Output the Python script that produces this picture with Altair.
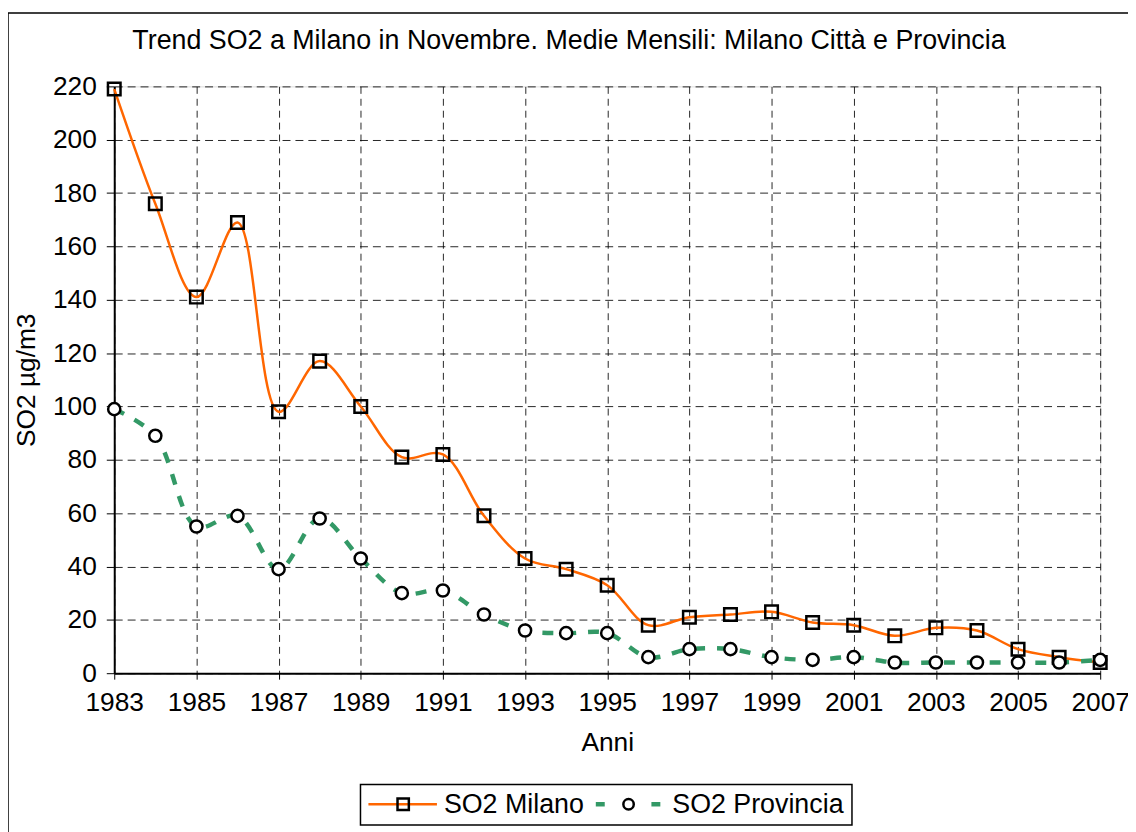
import altair as alt
import pandas as pd

years = list(range(1983, 2008))
milano = [219, 176, 141, 169, 98, 117, 100, 81, 82, 59, 43, 39, 33, 18, 21, 22, 23, 19, 18, 14, 17, 16, 9, 6, 4]
provincia = [99, 89, 55, 59, 39, 58, 43, 30, 31, 22, 16, 15, 15, 6, 9, 9, 6, 5, 6, 4, 4, 4, 4, 4, 5]
x_ticks = list(range(1983, 2008, 2))
y_ticks = list(range(0, 221, 20))
title_text = "Trend SO2 a Milano in Novembre. Medie Mensili: Milano Città e Provincia"

df = pd.DataFrame({"Anno": years, "Milano": milano, "Provincia": provincia})

FONT = "Liberation Sans"
ORANGE = "#FF6600"
GREEN = "#339966"
FS = 26.5

x = alt.X("Anno:Q", scale=alt.Scale(domain=[1983, 2007], nice=False, zero=False),
          axis=alt.Axis(values=x_ticks, format="d", title="Anni", grid=True,
                        gridDash=[7, 5], gridColor="#000000", gridOpacity=0.85,
                        domainColor="#000000", domainWidth=2, tickColor="#000000",
                        tickSize=6, labelFontSize=FS, labelFont=FONT, labelColor="#000",
                        labelOverlap=False, labelFlush=False, labelBound=False,
                        labelPadding=11, titleFontSize=FS, titleFont=FONT,
                        titleFontWeight="normal", titlePadding=13, titleColor="#000"))
y_axis = alt.Axis(values=y_ticks, title="SO2 µg/m3", grid=True, gridDash=[8, 5],
                  gridColor="#000000", gridOpacity=0.85, domainColor="#000000",
                  domainWidth=2, tickColor="#000000", tickSize=8, labelFontSize=FS,
                  labelFont=FONT, labelColor="#000", labelPadding=10, titleFontSize=FS,
                  labelOverlap=False, labelFlush=False,
                  titleFont=FONT, titleFontWeight="normal", titlePadding=12, titleColor="#000")
yscale = alt.Scale(domain=[0, 220], nice=False)

base = alt.Chart(df)

line_m = base.mark_line(color=ORANGE, strokeWidth=2.5, interpolate="catmull-rom").encode(
    x=x, y=alt.Y("Milano:Q", scale=yscale, axis=y_axis))
pts_m = base.mark_point(shape="square", size=160, filled=False, color="#000000",
                        strokeWidth=2.5, opacity=1).encode(x="Anno:Q", y="Milano:Q")
line_p = base.mark_line(color=GREEN, strokeWidth=4.5, strokeDash=[11, 12],
                        interpolate="catmull-rom").encode(x="Anno:Q", y="Provincia:Q")
pts_p = base.mark_point(shape="circle", size=150, filled=True, fill="#ffffff",
                        stroke="#000000", strokeWidth=2.5, opacity=1).encode(
    x="Anno:Q", y="Provincia:Q")

single = pd.DataFrame({"a": [0]})

# outer frame
frame = alt.Chart(single).mark_rect(
    fill=None, stroke="#000000", strokeWidth=1.5, clip=False).encode(
    x=alt.value(-107), x2=alt.value(1040), y=alt.value(-74), y2=alt.value(760))

# title
title = alt.Chart(single).mark_text(text=title_text, align="center", baseline="middle",
                                    fontSize=27, font=FONT, color="#000").encode(
    x=alt.value(458), y=alt.value(-46))

# legend
lg = alt.Chart(single)
leg_box = lg.mark_rect(fill="#ffffff", stroke="#000000", strokeWidth=1.5).encode(
    x=alt.value(248), x2=alt.value(743), y=alt.value(703), y2=alt.value(744))
leg_l1 = lg.mark_rule(color=ORANGE, strokeWidth=2.5).encode(
    x=alt.value(256), x2=alt.value(325), y=alt.value(723))
leg_s1 = lg.mark_point(shape="square", size=130, filled=False, color="#000000",
                       strokeWidth=2.5, opacity=1).encode(x=alt.value(291), y=alt.value(723))
leg_t1 = lg.mark_text(text="SO2 Milano", align="left", baseline="middle", fontSize=27,
                      font=FONT, color="#000").encode(x=alt.value(332), y=alt.value(724))
leg_l2a = lg.mark_rule(color=GREEN, strokeWidth=4.5).encode(
    x=alt.value(485), x2=alt.value(494), y=alt.value(723))
leg_l2b = lg.mark_rule(color=GREEN, strokeWidth=4.5).encode(
    x=alt.value(541), x2=alt.value(550), y=alt.value(723))
leg_c2 = lg.mark_point(shape="circle", size=110, filled=True, fill="#ffffff",
                       stroke="#000000", strokeWidth=2.5, opacity=1).encode(
    x=alt.value(518), y=alt.value(723))
leg_t2 = lg.mark_text(text="SO2 Provincia", align="left", baseline="middle", fontSize=27,
                      font=FONT, color="#000").encode(x=alt.value(562), y=alt.value(724))

chart = alt.layer(frame, title, line_m, line_p, pts_m, pts_p,
                  leg_box, leg_l1, leg_s1, leg_t1, leg_l2a, leg_l2b, leg_c2, leg_t2).properties(
    width=993, height=591,
    autosize=alt.AutoSizeParams(type="none"),
    padding={"left": 107, "top": 76, "right": 28, "bottom": 157},
).configure_view(stroke="#000000", strokeWidth=1.5).configure(background="#ffffff")

chart.save("out.html", embed_options={"renderer": "svg", "actions": False})
